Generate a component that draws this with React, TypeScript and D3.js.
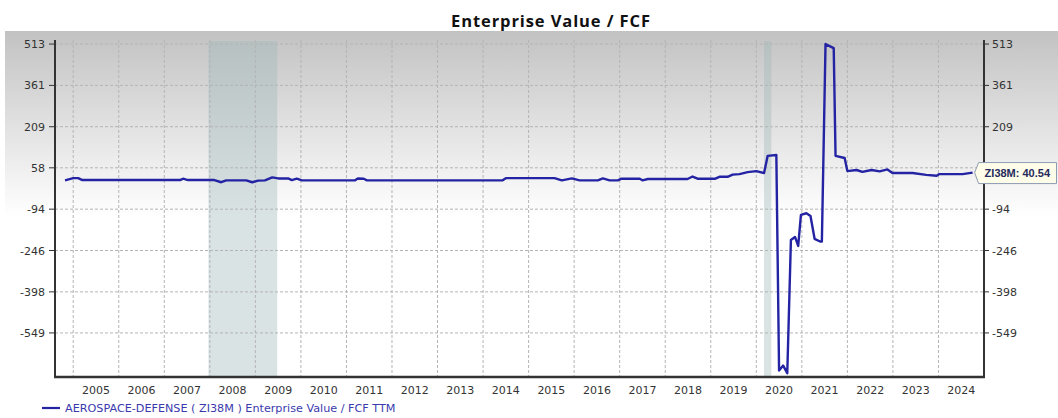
import React from 'react';
import * as d3 from 'd3';

// chart size and the plot box inside it
const width = 1058;
const height = 418;
const plot = { left: 55, right: 984, top: 40, bottom: 377 };

// decimal years, with the matching EV/FCF values
const years = [
  2004.82, 2005.0, 2005.11, 2005.2, 2007.35, 2007.41, 2007.52, 2008.1, 2008.25, 2008.36,
  2008.8, 2008.93, 2009.06, 2009.21, 2009.37, 2009.5, 2009.72, 2009.8, 2009.91, 2010.02,
  2011.19, 2011.25, 2011.38, 2011.45, 2014.43, 2014.5, 2015.57, 2015.73, 2015.95, 2016.12,
  2016.52, 2016.63, 2016.78, 2016.96, 2017.04, 2017.44, 2017.5, 2017.62, 2018.49, 2018.6,
  2018.71, 2019.1, 2019.19, 2019.37, 2019.48, 2019.63, 2019.81, 2020.0, 2020.17, 2020.25,
  2020.44, 2020.5, 2020.59, 2020.68, 2020.76, 2020.85, 2020.92, 2020.98, 2021.1, 2021.19,
  2021.28, 2021.4, 2021.44, 2021.52, 2021.7, 2021.74, 2021.94, 2022.0, 2022.2, 2022.33,
  2022.53, 2022.71, 2022.88, 2022.99, 2023.43, 2023.73, 2023.96, 2024.02, 2024.53, 2024.75,
];
const values = [
  12, 20, 20, 13, 13, 18, 13, 13, 5, 12,
  12, 5, 11, 12, 23, 19, 19, 13, 18, 12,
  12, 19, 18, 12, 12, 20, 20, 12, 19, 12,
  12, 19, 12, 12, 18, 18, 12, 17, 17, 26,
  18, 18, 25, 25, 33, 35, 42, 46, 39, 102,
  105, -687, -669, -697, -207, -196, -229, -115, -109, -119,
  -203, -213, -213, 513, 498, 102, 94, 46, 50, 43,
  50, 45, 52, 39, 39, 32, 29, 35, 35, 40.54,
];

const yTicks = [513, 361, 209, 58, -94, -246, -398, -549];
const yearTicks = d3.range(2005, 2025);

// recession bands
const recessionStart = [2007.97, 2020.17];
const recessionEnd = [2009.48, 2020.33];

const lastLabel = 'ZI38M: 40.54';
const legendText = 'AEROSPACE-DEFENSE ( ZI38M ) Enterprise Value / FCF TTM';

const tickFont = '"DejaVu Sans", Verdana, sans-serif';
const lineColor = '#2323a3';

export default function App() {
  const x = d3.scaleLinear().domain([2004.6, 2025]).range([plot.left, plot.right]);
  const y = d3.scaleLinear().domain([-711, 561]).range([377, 31]);

  const pts: [number, number][] = years.map((yr, i) => [yr, values[i]]);
  const line = d3
    .line<[number, number]>()
    .x(d => x(d[0]))
    .y(d => y(d[1]));

  const last = pts[pts.length - 1];
  const lx = x(last[0]) + 2;
  const ly = y(last[1]);
  // the callout hides any right-hand tick label it sits on
  const rightTicks = yTicks.filter(t => Math.abs(y(t) - ly) > 12);

  return (
    <svg
      width={width}
      height={height}
      style={{ position: 'absolute', left: 0, top: 0, background: '#fff' }}
    >
      <defs>
        <linearGradient id="bg" x1="0" y1="0" x2="0" y2="1">
          <stop offset="0" stopColor="#c2c2c2" />
          <stop offset="0.48" stopColor="#ffffff" />
          <stop offset="1" stopColor="#ffffff" />
        </linearGradient>
      </defs>

      <rect x={5} y={31} width={width - 5} height={height - 31} fill="url(#bg)" />

      <text
        x={551}
        y={27}
        textAnchor="middle"
        fontFamily='"Open Sans", sans-serif'
        fontWeight={700}
        fontSize={16.5}
        letterSpacing={0.9}
        fill="#111"
      >
        Enterprise Value / FCF
      </text>

      {recessionStart.map((s, i) => (
        <rect
          key={'r' + i}
          x={x(s)}
          y={plot.top + 1}
          width={x(recessionEnd[i]) - x(s)}
          height={plot.bottom - plot.top - 1}
          fill="#9fb8bb"
          opacity={0.4}
        />
      ))}

      {/* grid */}
      {yTicks.map(t => (
        <line
          key={'hy' + t}
          x1={plot.left}
          x2={plot.right}
          y1={y(t)}
          y2={y(t)}
          stroke="#b4b4b4"
          strokeDasharray="3,2"
        />
      ))}
      {yearTicks.map(t => (
        <line
          key={'vx' + t}
          x1={x(t)}
          x2={x(t)}
          y1={plot.top}
          y2={plot.bottom}
          stroke="#b4b4b4"
          strokeDasharray="3,2"
        />
      ))}

      <path d={line(pts) || ''} fill="none" stroke={lineColor} strokeWidth={2.4} strokeLinejoin="round" />

      {/* axes */}
      <g stroke="#333" fill="none">
        <line x1={plot.left} x2={plot.left} y1={plot.top} y2={plot.bottom + 1} strokeWidth={2} />
        <line x1={plot.right} x2={plot.right} y1={plot.top} y2={plot.bottom + 1} strokeWidth={2} />
        <line x1={plot.left - 1} x2={plot.right + 1} y1={plot.bottom} y2={plot.bottom} strokeWidth={2.5} />
        {yTicks.map(t => (
          <g key={'t' + t}>
            <line x1={plot.left - 6} x2={plot.left} y1={y(t)} y2={y(t)} strokeWidth={1} />
            <line x1={plot.right} x2={plot.right + 5} y1={y(t)} y2={y(t)} strokeWidth={1} />
          </g>
        ))}
      </g>

      <g fontFamily={tickFont} fontSize={11} fill="#333">
        {yTicks.map(t => (
          <text key={'l' + t} x={plot.left - 10} y={y(t) + 4} textAnchor="end">
            {t}
          </text>
        ))}
        {rightTicks.map(t => (
          <text key={'r' + t} x={plot.right + 8} y={y(t) + 4}>
            {t}
          </text>
        ))}
        {yearTicks.map(t => (
          <text key={'yl' + t} x={x(t + 0.5)} y={394} textAnchor="middle">
            {t}
          </text>
        ))}
      </g>

      {/* last value callout */}
      <path
        d={`M${lx},${ly} L${lx + 4},${ly - 10} H${width - 1.5} V${ly + 11} H${lx + 4} Z`}
        fill="#fdfde9"
        stroke="#8d9bb3"
        strokeWidth={1}
      />
      <text
        x={lx + 10}
        y={ly + 4}
        fontFamily='"Liberation Sans", Arial, sans-serif'
        fontSize={11}
        fontWeight={700}
        fill="#262a5c"
      >
        {lastLabel}
      </text>

      {/* legend */}
      <line x1={42} x2={60} y1={408} y2={408} stroke={lineColor} strokeWidth={2.2} />
      <text x={65} y={412} fontFamily={tickFont} fontSize={11.2} fill="#3a3aae">
        {legendText}
      </text>
    </svg>
  );
}
